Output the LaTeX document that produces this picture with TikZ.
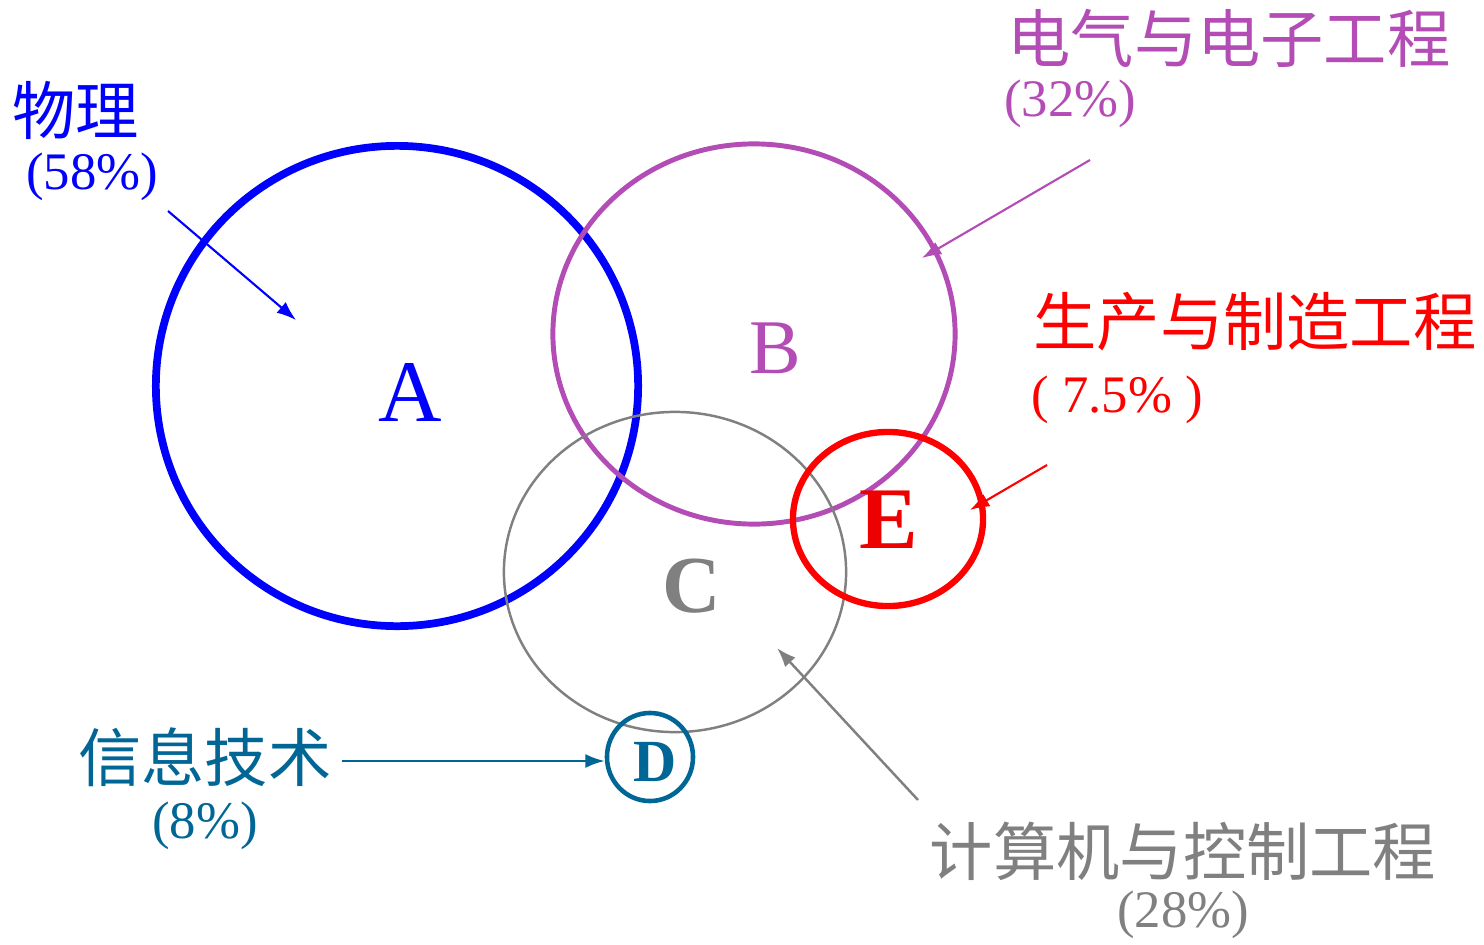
\documentclass[tikz,border=0pt]{standalone}
\usepackage{fontspec}
\setmainfont{Liberation Serif}
\newfontfamily\cjk{Noto Sans CJK SC}
\usetikzlibrary{arrows.meta,positioning,shapes.geometric}
\definecolor{phys}{RGB}{0,0,255}
\definecolor{elec}{RGB}{180,76,182}
\definecolor{comp}{RGB}{128,128,128}
\definecolor{info}{RGB}{0,102,150}
\definecolor{manu}{RGB}{255,0,0}
\tikzset{
  set/.style={ellipse,draw,inner sep=0pt},
  fieldname/.style={font=\cjk\fontsize{18}{20}\selectfont,inner sep=0pt},
  share/.style={font=\fontsize{15}{17}\selectfont,inner sep=0pt},
  pointer/.style={-{Latex[length=5.5pt,width=4pt]}}
}
\begin{document}
\begin{tikzpicture}[x=0.01cm,y=-0.01cm]
   \useasboundingbox (0,0) rectangle (1484,945);

   % the five fields
   \node[set,phys,line width=2.2pt,minimum width=4.82cm,minimum height=4.80cm] (A) at (397,386) {};
   \node[set,elec,line width=1.4pt,minimum width=4.02cm,minimum height=3.80cm] (B) at (754,334) {};
   \node[set,comp,line width=0.7pt,minimum width=3.42cm,minimum height=3.20cm] (C) at (675,572) {};
   \node[set,manu,line width=1.8pt,minimum width=1.90cm,minimum height=1.74cm] (E) at (888,519) {};
   \node[set,info,line width=1.3pt,minimum width=0.86cm,minimum height=0.88cm] (D) at (650,757) {};

   \node[phys,font=\fontsize{25}{27}\selectfont] (a) at (410,392) {A};
   \node[elec,font=\fontsize{22}{24}\selectfont] (b) at (775,348) {B};
   \node[comp,font=\bfseries\fontsize{23}{25}\selectfont] (c) at (692,586) {C};
   \node[manu!93!black,font=\bfseries\fontsize{25}{27}\selectfont] (e) at (889,520) {E};
   \node[info,font=\bfseries\fontsize{17}{19}\selectfont] (d) at (655,762) {D};

   % labels
   \node[fieldname,phys] (physT) at (76,110) {物理};
   \node[share,phys] (physP) at (92,177) {(58\%)};
   \node[fieldname,elec] (elecT) at (1229,38) {电气与电子工程};
   \node[share,elec] (elecP) at (1070,104) {(32\%)};
   \node[fieldname,manu] (manuT) at (1255,322) {生产与制造工程};
   \node[share,manu] (manuP) at (1117,400) {( 7.5\% )};
   \node[fieldname,info] (infoT) at (205,757) {信息技术};
   \node[share,info] (infoP) at (205,826) {(8\%)};
   \node[fieldname,comp] (compT) at (1183,851) {计算机与控制工程};
   \node[share,comp] (compP) at (1183,915) {(28\%)};

   % arrow ends
   \coordinate (physS) at (168,211);
   \coordinate (physE) at (296,320);
   \coordinate (elecS) at (1090,160);
   \coordinate (elecE) at (922,258);
   \coordinate (manuS) at (1047,465);
   \coordinate (manuE) at (970,510);
   \coordinate (compS) at (918,800);
   \coordinate (compE) at (777,648);
   \coordinate (infoS) at (342,761);

   \draw[pointer,phys,line width=0.6pt] (physS) -- (physE);
   \draw[pointer,elec,line width=0.6pt] (elecS) -- (elecE);
   \draw[pointer,manu,line width=0.6pt] (manuS) -- (manuE);
   \draw[pointer,comp,line width=0.7pt] (compS) -- (compE);
   \draw[pointer,info,line width=0.7pt] (infoS) -- (infoS -| D.west);
\end{tikzpicture}
\end{document}
